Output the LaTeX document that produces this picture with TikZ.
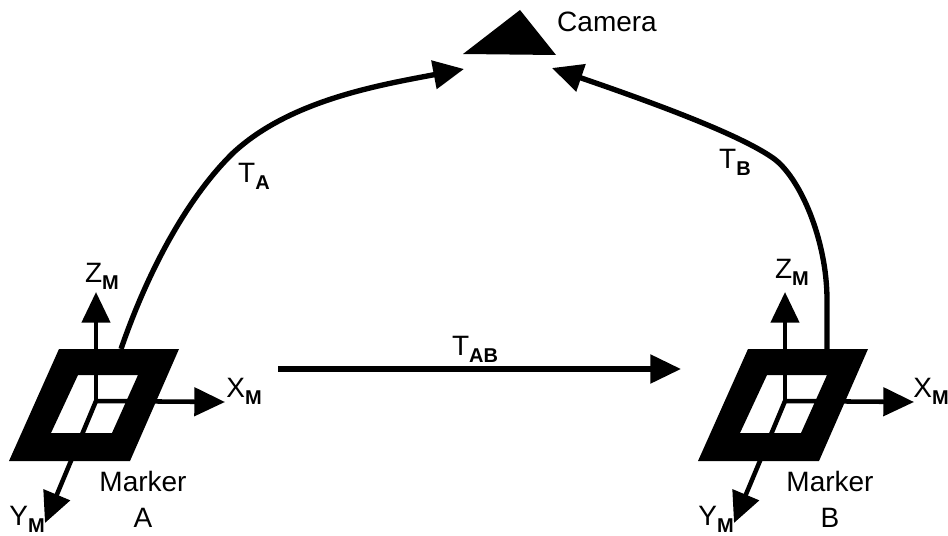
\documentclass[tikz,border=0pt]{standalone}
\usepackage{fontspec}
\setmainfont{Liberation Sans}
\usetikzlibrary{arrows.meta}
\newcommand{\lblsub}[2]{#1\raisebox{-0.25em}{\fontsize{15}{15}\selectfont\bfseries #2}}
\tikzset{
  axisline/.style={line width=3.4pt,-{Triangle[length=23pt,width=21pt]}},
  linkline/.style={line width=4pt,-{Triangle[length=23pt,width=21pt]}},
  lbl/.style={inner sep=0pt,font=\fontsize{21}{27}\selectfont}
}
\begin{document}
\begin{tikzpicture}[x=0.75pt,y=-0.75pt]
  % coordinates are pixels of the 948x535 frame, y pointing down
  \useasboundingbox (0,0) rectangle (948,535);
  \foreach \m/\dx in {A/0,B/689} {
    \begin{scope}[xshift=\dx*0.75pt]
      \fill[even odd rule] (59,349) -- (179,349) -- (130,461) -- (9,461) -- cycle
        (78,375) -- (138,375) -- (112,433) -- (51,433) -- cycle;
      \coordinate (o\m) at (96,401);
      \coordinate (z\m) at (96,292);
      \coordinate (x\m) at (225,402);
      \coordinate (y\m) at (45,523);
      \draw[axisline] (o\m) -- (z\m);
      \draw[axisline] (o\m) -- (x\m);
      \draw[axisline] (o\m) -- (y\m);
    \end{scope}
  }
  % camera
  \fill (463,54) -- (520,10) -- (556,55) -- cycle;
  \coordinate (camL) at (464,69);
  \coordinate (camR) at (552,68);
  \coordinate (startA) at (121,349);
  \coordinate (startB) at (827,349);
  \coordinate (startAB) at (278,369);
  \coordinate (endAB) at (681,369);
  \draw[linkline] (startA) .. controls (150,265) and (190,195) .. (233,153)
    .. controls (290,100) and (380,85) .. (camL);
  \draw[linkline] (startB) -- (827,300) .. controls (827,240) and (800,177) .. (773,158)
    .. controls (740,135) and (660,105) .. (camR);
  \draw[linkline] (startAB) -- (endAB);
  \node[lbl] (camera) at (607,22) {Camera};
  \node[lbl] (tA) at (254,176) {\lblsub{T}{A}};
  \node[lbl] (tB) at (735,162) {\lblsub{T}{B}};
  \node[lbl] (tAB) at (475,349) {\lblsub{T}{AB}};
  \node[lbl,align=center] (markerA) at (143,499) {Marker\\A};
  \node[lbl,align=center] (markerB) at (830,499) {Marker\\B};
  \node[lbl] (zA) at (102,276) {\lblsub{Z}{M}};
  \node[lbl] (xA) at (244,391) {\lblsub{X}{M}};
  \node[lbl] (yA) at (27,519) {\lblsub{Y}{M}};
  \node[lbl] (zB) at (792,272) {\lblsub{Z}{M}};
  \node[lbl] (xB) at (931,391) {\lblsub{X}{M}};
  \node[lbl] (yB) at (716,519) {\lblsub{Y}{M}};
\end{tikzpicture}
\end{document}
